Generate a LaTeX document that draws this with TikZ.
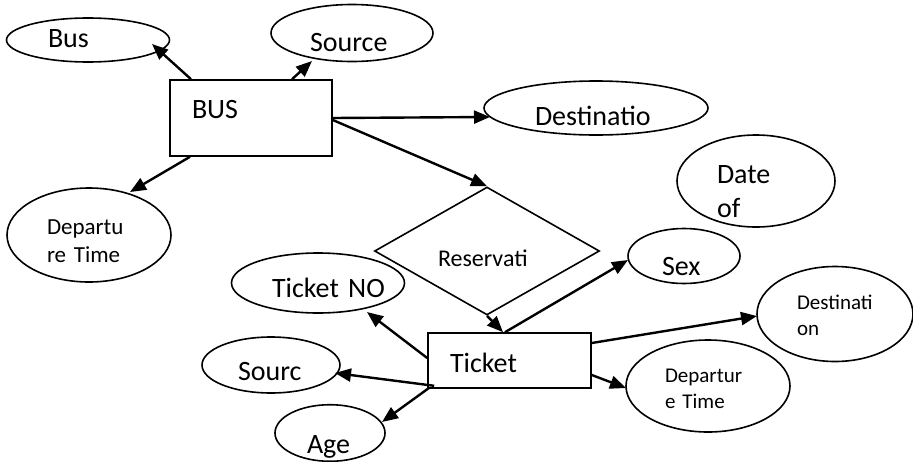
\documentclass[tikz,border=0pt]{standalone}
\usepackage{fontspec}
\setmainfont{Carlito}
\usetikzlibrary{positioning}
\usetikzlibrary{shapes.geometric}
\usetikzlibrary{arrows.meta}
\hyphenpenalty=10000

\begin{document}
\begin{tikzpicture}[
  x=1pt, y=-1pt,
  font=\fontsize{28}{34}\selectfont,
  shp/.style={draw, line width=1.6pt, inner sep=0pt, align=left},
  entity/.style={shp, rectangle},
  attr/.style={shp, ellipse},
  relation/.style={shp, diamond},
  dims/.style 2 args={minimum width=#1pt, minimum height=#2pt},
  txt/.style n args={3}{text width=#1pt, text height=#2pt, text depth=#3pt},
  link/.style={line width=2.4pt, -{Triangle[length=16pt, width=13pt]}},
  mid/.style={font=\fontsize{23}{28}\selectfont},
  small/.style={font=\fontsize{21}{26}\selectfont}
]
\useasboundingbox (0,0) rectangle (913,461);

% Entities
\node[entity, dims={162}{76}, txt={118}{0}{0}] (bus) at (251,118) {BUS};
\node[entity, dims={163}{55}, txt={119}{23}{0}] (ticket) at (509.5,360.5) {Ticket};

% Relationship
\node[relation, dims={225}{118}, txt={98}{30}{0}, font=\fontsize{24}{29}\selectfont] (resv) at (487,251) {Reservati};

% Attributes of BUS
\node[attr, dims={163}{44}, txt={80}{14}{0}] (busno) at (88,40) {Bus};
\node[attr, dims={162}{57}, txt={84}{36}{0}] (src) at (352,33) {Source};
\node[attr, dims={224}{54}, txt={122}{34}{0}] (dst) at (596,108) {Destinatio};
\node[attr, dims={164}{94}, txt={84}{0}{2}, mid] (dep) at (89,235) {Departu\\re Time};
\node[attr, dims={158}{92}, txt={78}{4}{0}] (date) at (756,181) {Date\\of};

% Attributes of Ticket
\node[attr, dims={112}{55}, txt={44}{38}{0}] (sex) at (684,256) {Sex};
\node[attr, dims={173}{60}, txt={92}{28}{0}] (tno) at (318,283) {\mbox{Ticket NO}};
\node[attr, dims={138}{56}, txt={66}{30}{0}] (srcc) at (271,365) {Sourc};
\node[attr, dims={110}{53}, txt={46}{40}{0}] (age) at (330,433) {Age};
\node[attr, dims={156}{95}, txt={76}{0}{10}, small] (dst2) at (835,314) {Destinati\\on};
\node[attr, dims={164}{92}, txt={86}{0}{8}, small] (dep2) at (708,386) {Departur\\e Time};

% BUS links
\draw[link] ([shift={(-60,0)}]bus.north) -- ([shift={(64,4)}]busno.center);
\draw[link] ([shift={(41,0)}]bus.north) -- ([shift={(-40,28)}]src.center);
\draw[link] (bus.east) -- ([shift={(-106,9)}]dst.center);
\draw[link] ([shift={(0,2)}]bus.east) -- (resv.north);
\draw[link] ([shift={(-61,0)}]bus.south) -- ([shift={(41,-43)}]dep.center);

% Ticket links
\draw[link] (resv.south) -- ([shift={(-6.5,0)}]ticket.north);
\draw[link] ([shift={(-4.5,0)}]ticket.north) -- ([shift={(-56,4)}]sex.center);
\draw[link] ([shift={(0,-2.5)}]ticket.west) -- ([shift={(49,29)}]tno.center);
\draw[link] ([shift={(7,-3)}]ticket.south west) -- ([shift={(64,8)}]srcc.center);
\draw[link] ([shift={(2,-1)}]ticket.south west) -- ([shift={(52,-11)}]age.center);
\draw[link] ([shift={(0,-17.5)}]ticket.east) -- ([shift={(-78,2)}]dst2.center);
\draw[link] ([shift={(0,14.5)}]ticket.east) -- ([shift={(-82,2)}]dep2.center);

\end{tikzpicture}
\end{document}
